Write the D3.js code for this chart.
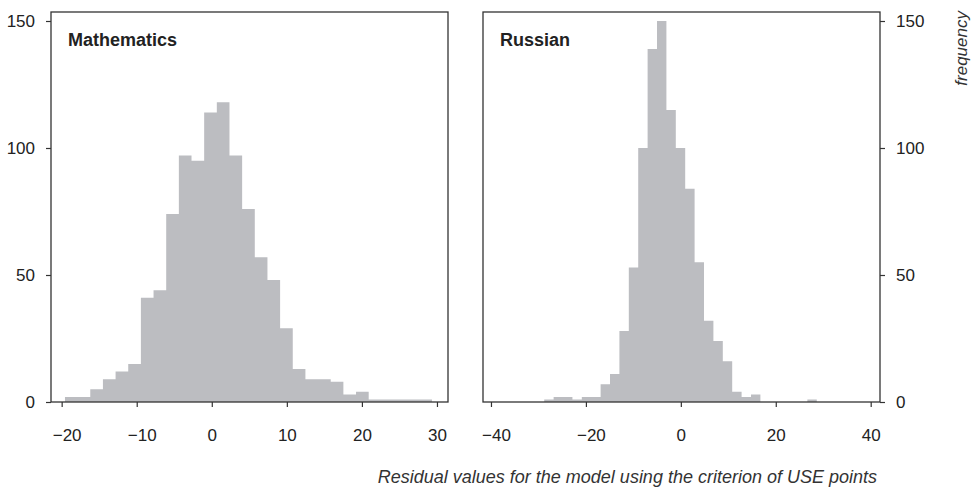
<!DOCTYPE html>
<html>
<head>
<meta charset="utf-8">
<script src="https://cdn.jsdelivr.net/npm/d3@7"></script>
<style>
  body { margin: 0; background: #fff; }
  svg { display: block; font-family: "Liberation Sans", Arial, sans-serif; }
  .frame { fill: none; stroke: #333; stroke-width: 1.3; }
  .tick line { stroke: #333; stroke-width: 1.2; }
  .tick text { fill: #222; font-size: 17px; }
  .domain { display: none; }
</style>
</head>
<body>
<svg width="973" height="489"></svg>
<script>
// histogram counts
var mathCounts = [2, 2, 5, 9, 12, 15, 41, 44, 74, 97, 95, 114, 118, 97, 76, 57, 48, 29, 13, 9, 9, 8, 3, 4, 1, 1, 1, 1, 1];
var mathBin = { start: -19.56, width: 1.686 };
var russianCounts = [1, 2, 2, 1, 2, 2, 7, 11, 28, 53, 100, 139, 150, 115, 100, 84, 55, 32, 24, 16, 4, 2, 3, 0, 0, 0, 0, 0, 1];
var russianBin = { start: -28.78, width: 1.98 };

var mathTicks = [-20, -10, 0, 10, 20, 30];
var russianTicks = [-40, -20, 0, 20, 40];
var yTicks = [0, 50, 100, 150];

var svg = d3.select('svg'),
    plotTop = 12, plotBottom = 402;

var y = d3.scaleLinear().domain([0, 150]).range([plotBottom, 21]);

var panels = [
  { name: 'Mathematics', counts: mathCounts, bin: mathBin, ticks: mathTicks,
    x: d3.scaleLinear().domain([-21.42, 31.47]).range([51, 448]) },
  { name: 'Russian', counts: russianCounts, bin: russianBin, ticks: russianTicks,
    x: d3.scaleLinear().domain([-41.68, 41.96]).range([483, 880]) }
];

var fmt = function(d) { return d < 0 ? '\u2212' + Math.abs(d) : '' + d; };

panels.forEach(function(p) {
  var x = p.x,
      x0 = x.range()[0], x1 = x.range()[1];
  var g = svg.append('g').attr('class', 'panel');

  // bars as one stepped area so neighbouring bins don't leave seams
  var steps = p.counts.map(function(d, i) { return { edge: p.bin.start + i * p.bin.width, n: d }; });
  steps.push({ edge: p.bin.start + p.counts.length * p.bin.width, n: p.counts[p.counts.length - 1] });

  var area = d3.area()
    .curve(d3.curveStepAfter)
    .x(function(d) { return x(d.edge); })
    .y0(plotBottom)
    .y1(function(d) { return y(d.n); });

  g.append('path')
    .datum(steps)
    .attr('d', area)
    .attr('fill', '#bcbdc1');

  // frame
  g.append('rect')
    .attr('class', 'frame')
    .attr('x', x0).attr('y', plotTop)
    .attr('width', x1 - x0).attr('height', plotBottom - plotTop);

  // x axis
  var xa = g.append('g')
    .attr('transform', 'translate(0,' + plotBottom + ')')
    .call(d3.axisBottom(x).tickValues(p.ticks).tickFormat(fmt).tickSize(5).tickPadding(22));
  // keep the digits centred on the tick, minus sign hangs left
  xa.selectAll('.tick text').each(function(d) {
    if (d < 0) {
      var t = d3.select(this),
          full = this.getComputedTextLength();
      t.text('' + Math.abs(d));
      var digits = this.getComputedTextLength();
      t.text(fmt(d)).attr('x', (full - digits) / 2);
    }
  });

  // panel label
  g.append('text')
    .attr('x', x0 + 17)
    .attr('y', 46)
    .attr('font-size', 18)
    .attr('font-weight', 'bold')
    .attr('fill', '#222')
    .text(p.name);
});

// y axes on both outer sides
svg.append('g')
  .attr('transform', 'translate(51,0)')
  .call(d3.axisLeft(y).tickValues(yTicks).tickSize(5).tickPadding(11));

svg.append('g')
  .attr('transform', 'translate(880,0)')
  .call(d3.axisRight(y).tickValues(yTicks).tickSize(5).tickPadding(11));

svg.append('text')
  .attr('transform', 'translate(967,11) rotate(-90)')
  .attr('text-anchor', 'end')
  .attr('font-size', 17)
  .attr('font-style', 'italic')
  .attr('fill', '#333')
  .text('frequency');

svg.append('text')
  .attr('x', 877)
  .attr('y', 483)
  .attr('text-anchor', 'end')
  .attr('font-size', 18)
  .attr('font-style', 'italic')
  .attr('fill', '#333')
  .text('Residual values for the model using the criterion of USE points');
</script>
</body>
</html>
